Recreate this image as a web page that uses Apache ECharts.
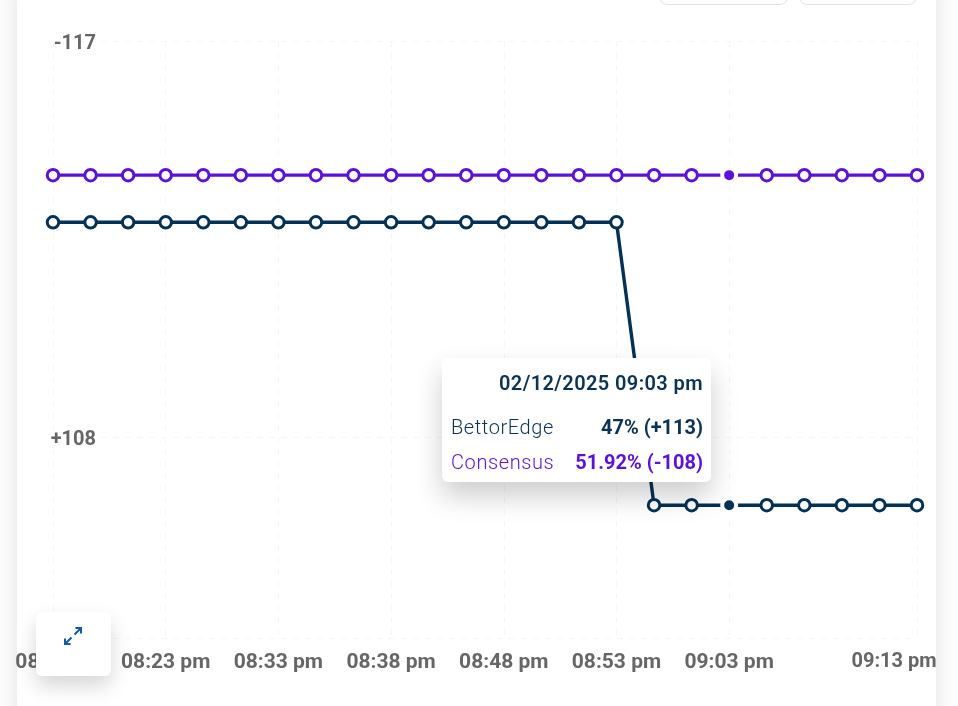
<!DOCTYPE html>
<html>
<head>
<meta charset="utf-8">
<script src="https://cdn.jsdelivr.net/npm/echarts@6/dist/echarts.min.js"></script>
<style>
html,body{margin:0;padding:0;width:958px;height:706px;overflow:hidden;background:#fff;font-family:Roboto,sans-serif}
#card{position:absolute;left:17px;top:-20px;width:919px;height:760px;background:#fff;box-shadow:0 0 24px rgba(0,0,0,.12)}
#chart{position:absolute;left:0;top:0;width:958px;height:706px}
.tab{position:absolute;top:-20px;height:23px;background:#fff;border:1px solid #e2e2e2;border-radius:8px}
#expand{position:absolute;left:36px;top:612px;width:75px;height:64px;background:#fff;border-radius:6px;box-shadow:0 10px 20px rgba(0,0,0,.16)}
#expand svg{position:absolute;left:27px;top:14px}
</style>
</head>
<body>
<div id="card"></div>
<div id="chart"></div>
<div class="tab" style="left:659px;width:127px"></div>
<div class="tab" style="left:799px;width:116px"></div>
<div id="expand"><svg width="20" height="20" viewBox="0 0 20 20" fill="none" stroke="#0f5ca8" stroke-width="2"><path d="M11.5 8.5 18 2M12.5 2H18V7.5"/><path d="M8.5 11.5 2 18M7.5 18H2V12.5"/></svg></div>
<script>
const categories = ['08:13 pm','08:17 pm','08:20 pm','08:23 pm','08:27 pm','08:30 pm','08:33 pm','08:35 pm','08:37 pm','08:38 pm','08:42 pm','08:45 pm','08:48 pm','08:50 pm','08:52 pm','08:53 pm','08:57 pm','09:00 pm','09:03 pm','09:05 pm','09:07 pm','09:09 pm','09:11 pm','09:13 pm'];
const shownTimeIndexes = [0,3,6,9,12,15,18,23];
const gridTimeIndexes = [0,3,6,9,12,15,18,23];
const bettorEdge = [51.21,51.21,51.21,51.21,51.21,51.21,51.21,51.21,51.21,51.21,51.21,51.21,51.21,51.21,51.21,51.21,46.95,46.95,46.95,46.95,46.95,46.95,46.95,46.95];
const consensus = [51.92,51.92,51.92,51.92,51.92,51.92,51.92,51.92,51.92,51.92,51.92,51.92,51.92,51.92,51.92,51.92,51.92,51.92,51.92,51.92,51.92,51.92,51.92,51.92];
const yMin = 44.95;
const yMax = 53.94;
const yTicks = [44.95,47.97,53.94];
const yLabelTicks = [47.97,53.94];
const yLabels = {47.97:'+108',53.94:'-117'};
const hoverIndex = 18;
const hoverTitle = '02/12/2025 09:03 pm';
const hoverRows = [
  {name:'BettorEdge', text:'47% (+113)', color:'#0a3358'},
  {name:'Consensus', text:'51.92% (-108)', color:'#5c10dc'}
];

const NAVY='#033158', PURPLE='#5c10dc', GREY='#666666';
function points(values,color){
  return values.map((v,i)=> i===hoverIndex
    ? {value:v,symbolSize:14,itemStyle:{color:color,borderColor:'#fff',borderWidth:4}}
    : {value:v});
}
function mk(name,values,color){
  return {
    name:name,type:'line',data:points(values,color),
    symbol:'circle',symbolSize:11.5,showSymbol:true,showAllSymbol:true,clip:false,
    lineStyle:{color:color,width:3.4},
    itemStyle:{color:'#fff',borderColor:color,borderWidth:3},
    emphasis:{disabled:true,scale:false}
  };
}
const labelFont={fontFamily:'Roboto',fontWeight:700,fontSize:21,color:GREY};
const chart=echarts.init(document.getElementById('chart'));
chart.setOption({
  animation:false,
  grid:{left:53,right:41,top:41,bottom:68,containLabel:false},
  tooltip:{
    trigger:'axis',alwaysShowContent:true,showContent:true,
    axisPointer:{type:'none'},
    position:[442,358],
    padding:0,borderWidth:0,backgroundColor:'#fff',
    extraCssText:'width:269px;height:124px;box-sizing:border-box;border-radius:6px;box-shadow:0 14px 28px rgba(0,0,0,.2);',
    formatter:function(){
      let h='<div style="font-family:Roboto;padding:0 8px 0 9px;color:#0a3358">';
      h+='<div style="text-align:right;font-size:20px;font-weight:600;letter-spacing:.4px;line-height:24px;padding-top:13px;margin-bottom:15px;">'+hoverTitle+'</div>';
      hoverRows.forEach(r=>{
        h+='<div style="display:flex;justify-content:space-between;color:'+r.color+';font-size:20px;line-height:35px;"><span style="font-weight:300;letter-spacing:.6px">'+r.name+'</span><span style="font-weight:700">'+r.text+'</span></div>';
      });
      return h+'</div>';
    }
  },
  xAxis:{
    type:'category',boundaryGap:false,data:categories,
    axisLine:{show:false},axisTick:{show:false},
    axisLabel:{
      interval:(i)=>shownTimeIndexes.includes(i),margin:14,hideOverlap:false,
      ...labelFont,
      formatter:function(v,i){
        if(i===0) return '{first|'+v+'}';
        if(i===categories.length-1) return '{last|'+v+'}';
        return v;
      },
      rich:{first:{...labelFont,padding:[0,0,0,14]},last:{...labelFont,fontSize:20,padding:[0,46,0,0]}}
    },
    splitLine:{show:true,interval:(i)=>gridTimeIndexes.includes(i),lineStyle:{color:'#f6f6f6',type:[6,6],width:1}}
  },
  yAxis:{
    type:'value',min:yMin,max:yMax,
    axisLine:{show:false},
    axisTick:{show:false,customValues:yTicks},
    axisLabel:{inside:true,customValues:yLabelTicks,margin:43,align:'right',...labelFont,fontSize:20,
      formatter:(v)=>yLabels[v]?'{y|'+yLabels[v]+'}':'',
      rich:{y:{...labelFont,fontSize:20,padding:[6,0,0,0]}}},
    splitLine:{show:true,lineStyle:{color:'#f6f6f6',type:[6,6],width:1}}
  },
  series:[mk('BettorEdge',bettorEdge,NAVY),mk('Consensus',consensus,PURPLE)]
});
chart.dispatchAction({type:'showTip',seriesIndex:0,dataIndex:hoverIndex});
</script>
</body>
</html>
